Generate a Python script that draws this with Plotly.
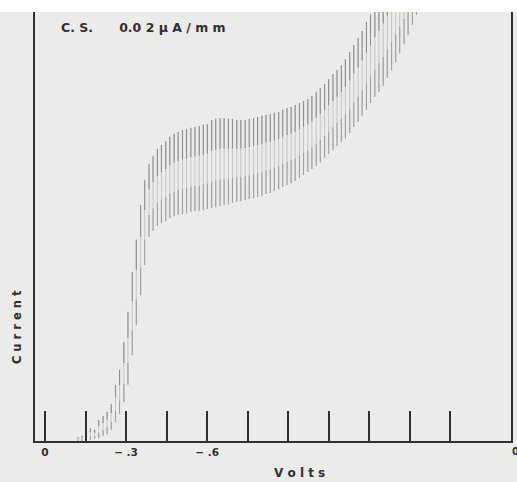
import plotly.graph_objects as go

# Drop potentials (V vs reference, cathodic = negative)
drop_volts = [-0.122, -0.137, -0.153, -0.168, -0.184, -0.199, -0.215, -0.230, -0.245, -0.261,
              -0.276, -0.292, -0.307, -0.323, -0.338, -0.354, -0.369, -0.385, -0.400, -0.416,
              -0.431, -0.447, -0.462, -0.478, -0.493, -0.509, -0.524, -0.540, -0.555, -0.571,
              -0.586, -0.601, -0.617, -0.632, -0.648, -0.663, -0.679, -0.694, -0.710, -0.725,
              -0.741, -0.756, -0.772, -0.787, -0.803, -0.818, -0.834, -0.849, -0.865, -0.880,
              -0.896, -0.911, -0.926, -0.942, -0.957, -0.973, -0.988, -1.004, -1.019, -1.035,
              -1.050, -1.066, -1.081, -1.097, -1.112, -1.128, -1.143, -1.159, -1.174, -1.190,
              -1.205, -1.221, -1.236, -1.252, -1.267, -1.283, -1.298, -1.313, -1.329, -1.344,
              -1.360, -1.375]
# Current at the bottom (min) and top (max) of each drop oscillation (chart mm)
drop_low = [0.0, 0.0, 0.2, 0.2, 0.5, 0.7, 1.2, 1.6, 2.6, 4.4,
            6.3, 9.1, 13.1, 20.0, 27.0, 34.0, 41.0, 47.6, 49.0, 50.1,
            50.8, 51.3, 52.0, 52.4, 52.7, 52.9, 53.1, 53.4, 53.6, 53.6,
            53.8, 54.1, 54.3, 54.5, 54.8, 55.0, 55.2, 55.5, 55.7, 55.9,
            56.2, 56.4, 56.6, 56.9, 57.1, 57.6, 57.8, 58.3, 58.7, 59.2,
            59.7, 60.1, 60.6, 61.3, 62.0, 62.7, 63.4, 64.1, 65.0, 66.0,
            66.9, 67.8, 68.8, 69.7, 70.6, 71.8, 73.2, 74.4, 75.8, 77.2,
            78.8, 80.2, 81.4, 82.8, 84.6, 86.5, 88.3, 90.4, 92.5, 94.6,
            97.0, 99.3]
drop_high = [0.9, 1.2, 2.1, 3.0, 2.6, 4.9, 5.8, 6.8, 8.6, 13.1,
             16.6, 23.1, 30.1, 39.4, 46.9, 55.0, 60.8, 64.6, 66.4, 68.1,
             69.0, 69.9, 70.9, 71.6, 72.0, 72.5, 72.7, 73.0, 73.2, 73.4,
             73.7, 73.9, 74.8, 75.1, 75.3, 75.3, 75.1, 75.1, 74.8, 74.8,
             74.8, 75.1, 75.3, 75.5, 75.8, 76.0, 76.2, 76.5, 76.7, 77.2,
             77.6, 77.9, 78.3, 78.8, 79.3, 79.7, 80.4, 81.4, 82.3, 83.2,
             84.4, 85.5, 86.5, 87.6, 89.0, 90.7, 92.3, 93.9, 95.6, 97.7,
             99.5, 101.6, 103.3, 105.1, 107.0, 108.6, 109.8, 111.0, 112.1, 113.3,
             114.5, 115.6]

tick_volts = [0, -0.15, -0.3, -0.45, -0.6, -0.75, -0.9, -1.05, -1.2, -1.35, -1.5]
tick_labels = ["0", "", "− .3", "", "− .6", "", "", "", "", "", ""]

title_text = "C. S.      0.0 2 μ A / m m"
x_title = "V o l t s"
y_title = "C u r r e n t"

# Build drop segments
seg_x, seg_y = [], []
top_x, top_y = [], []
bot_x, bot_y = [], []
for v, lo, hi in zip(drop_volts, drop_low, drop_high):
    seg_x += [v, v, None]
    seg_y += [lo, hi, None]
    span = hi - lo
    top_x += [v, v, None]
    top_y += [hi - 0.35 * span, hi, None]
    bot_x += [v, v, None]
    bot_y += [lo, lo + 0.3 * span, None]

fig = go.Figure()
fig.add_trace(go.Scatter(x=seg_x, y=seg_y, mode="lines",
                         line=dict(color="#c6c6c6", width=1), hoverinfo="skip"))
fig.add_trace(go.Scatter(x=top_x, y=top_y, mode="lines",
                         line=dict(color="#8e8e8e", width=1.1), hoverinfo="skip"))
fig.add_trace(go.Scatter(x=bot_x, y=bot_y, mode="lines",
                         line=dict(color="#a0a0a0", width=1.1), hoverinfo="skip"))

bg = "#ebebea"
ink = "#303030"
W, H = 517, 482
L, T, R = 35, 12, 4
B = H - T - 429
pw = W - L - R  # 478
ph = 429


def px_x(px):
    return (px - L) / pw


def px_y(py):
    return (H - B - py) / ph


fig.update_layout(
    width=W, height=H,
    margin=dict(l=L, r=R, t=T, b=B),
    paper_bgcolor=bg, plot_bgcolor=bg,
    showlegend=False,
    font=dict(family="DejaVu Sans", color=ink),
    xaxis=dict(range=[0.037, -1.725], tickvals=tick_volts,
               ticktext=["<b>" + t + "</b>" if t else "" for t in tick_labels],
               ticks="inside", ticklen=30, tickwidth=1.6, tickcolor=ink,
               showline=True, linecolor=ink, linewidth=1.8,
               showgrid=False, zeroline=False,
               tickfont=dict(size=10.5, family="DejaVu Sans", color=ink)),
    yaxis=dict(range=[0, 100], showticklabels=False, ticks="",
               showline=True, mirror=True, linecolor=ink, linewidth=1.8,
               showgrid=False, zeroline=False),
    shapes=[dict(type="rect", xref="paper", yref="paper", x0=-0.2, x1=1.2,
                 y0=1.0, y1=1.05, fillcolor="white", line=dict(width=0), layer="below")],
    annotations=[
        dict(text="<b>" + title_text + "</b>", xref="paper", yref="paper",
             x=px_x(59), y=px_y(28), xanchor="left", yanchor="middle", showarrow=False,
             font=dict(size=12.5, family="DejaVu Sans", color=ink)),
        dict(text="<b>" + x_title + "</b>", xref="paper", yref="paper",
             x=px_x(301), y=px_y(473), xanchor="center", yanchor="middle",
             showarrow=False, font=dict(size=12, family="DejaVu Sans", color=ink)),
        dict(text="<b>" + y_title + "</b>", xref="paper", yref="paper",
             x=px_x(17), y=px_y(327), xanchor="center", yanchor="middle",
             textangle=-90, showarrow=False,
             font=dict(size=11.5, family="DejaVu Sans", color=ink)),
        dict(text="<b>0</b>", xref="paper", yref="paper",
             x=px_x(512), y=px_y(451), xanchor="left", yanchor="middle",
             showarrow=False, font=dict(size=10, family="DejaVu Sans", color=ink)),
    ],
)

fig.write_html("out.html",
               config={"displayModeBar": False},
               post_script="document.body.style.margin='0';document.body.style.overflow='hidden';")
